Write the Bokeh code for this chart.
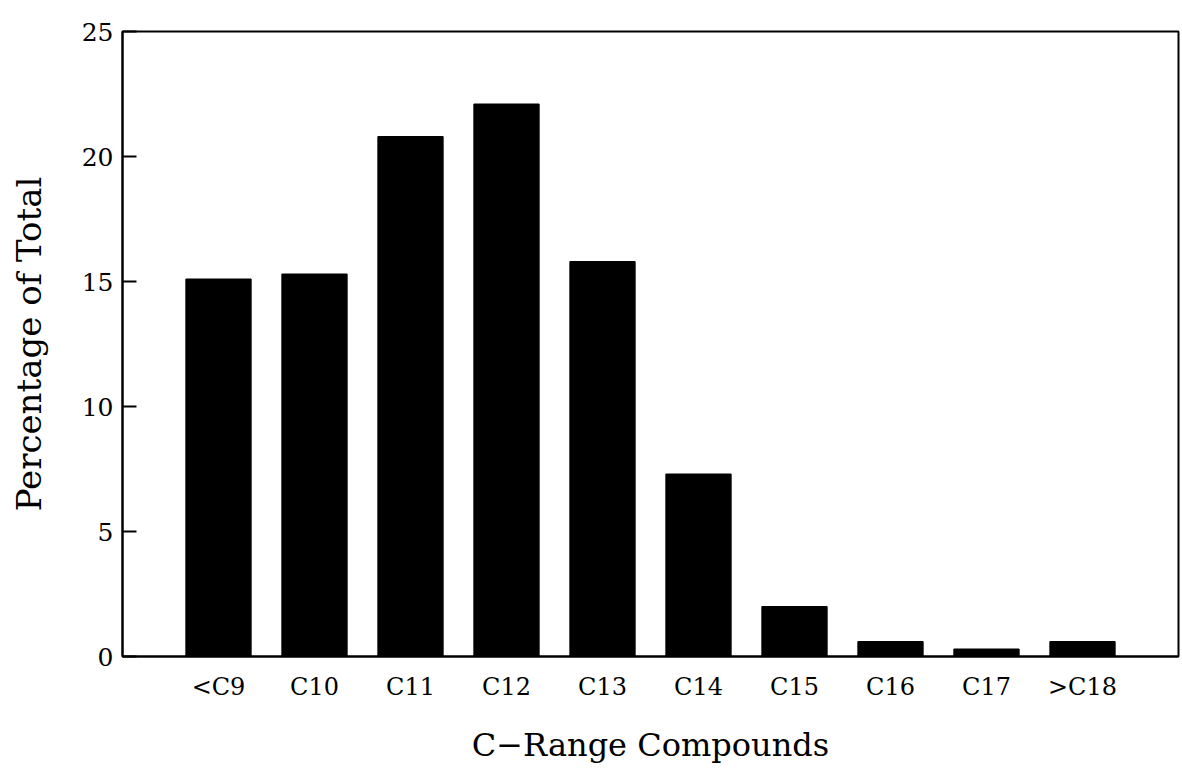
from bokeh.plotting import figure
from bokeh.models import ColumnDataSource, Range1d, FixedTicker
from bokeh.embed import file_html
from bokeh.resources import INLINE

categories = ["<C9", "C10", "C11", "C12", "C13", "C14", "C15", "C16", "C17", ">C18"]
percent = [15.1, 15.3, 20.8, 22.1, 15.8, 7.3, 2.0, 0.6, 0.3, 0.6]
y_ticks = [0, 5, 10, 15, 20, 25]

positions = list(range(1, len(categories) + 1))
src = ColumnDataSource(dict(x=positions, top=percent, cat=categories))

FONT = "DejaVu Serif"

p = figure(width=1180, height=767, output_backend="svg", toolbar_location=None,
           x_range=Range1d(0, 11), y_range=Range1d(0, 25),
           min_border_left=122, min_border_right=2, min_border_top=31, min_border_bottom=111)

p.vbar(x="x", top="top", bottom=0, width=0.68, source=src,
       fill_color="black", line_color="black")

p.xgrid.visible = False
p.ygrid.visible = False
p.outline_line_color = "black"
p.outline_line_width = 2
p.background_fill_color = "white"
p.border_fill_color = "white"

# x axis
p.xaxis.ticker = FixedTicker(ticks=positions)
p.xaxis.major_label_overrides = {i: c for i, c in zip(positions, categories)}
p.xaxis.major_tick_line_color = None
p.xaxis.minor_tick_line_color = None
p.xaxis.axis_line_width = 2
p.xaxis.major_label_text_font = FONT
p.xaxis.major_label_text_font_size = "24px"
p.xaxis.major_label_text_color = "black"
p.xaxis.major_label_standoff = 10
p.xaxis.axis_label = "C\u2212Range Compounds"
p.xaxis.axis_label_text_font = FONT
p.xaxis.axis_label_text_font_size = "32px"
p.xaxis.axis_label_text_font_style = "normal"
p.xaxis.axis_label_text_color = "black"
p.xaxis.axis_label_standoff = 22

# y axis
p.yaxis.ticker = FixedTicker(ticks=y_ticks)
p.yaxis.major_tick_in = 14
p.yaxis.major_tick_out = 0
p.yaxis.major_tick_line_width = 2
p.yaxis.minor_tick_line_color = None
p.yaxis.axis_line_width = 2
p.yaxis.major_label_text_font = FONT
p.yaxis.major_label_text_font_size = "25px"
p.yaxis.major_label_text_color = "black"
p.yaxis.major_label_standoff = 9
p.yaxis.axis_label = "Percentage of Total"
p.yaxis.axis_label_text_font = FONT
p.yaxis.axis_label_text_font_size = "34px"
p.yaxis.axis_label_text_font_style = "normal"
p.yaxis.axis_label_text_color = "black"
p.yaxis.axis_label_standoff = 30

open("out.html", "w").write(file_html(p, INLINE))
